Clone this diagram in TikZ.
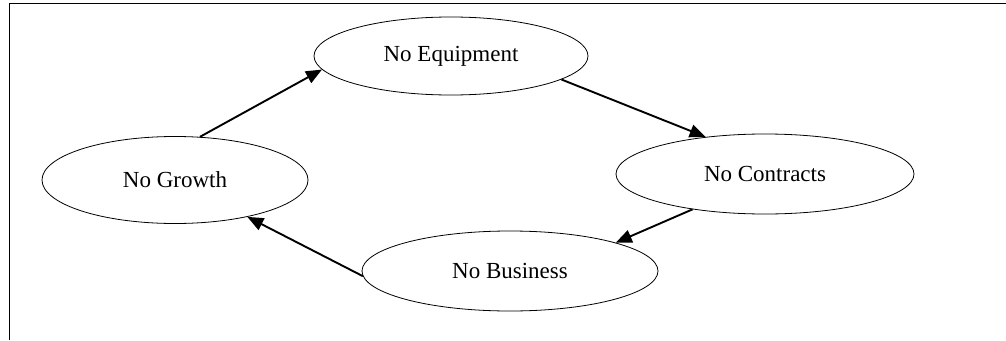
\documentclass[tikz,border=0pt]{standalone}
\usepackage{fontspec}
\setmainfont{Liberation Serif}
\usetikzlibrary{shapes.geometric,arrows.meta}
\begin{document}
\begin{tikzpicture}[x=1pt, y=-1pt,
    state/.style={ellipse, draw, line width=0.8pt, inner sep=0pt, font=\fontsize{23}{27}\selectfont},
    link/.style={line width=1.9pt, -{Triangle[length=16pt, width=13pt]}}]
	\useasboundingbox (0,0) rectangle (1006,340);
	\draw[line width=1pt] (9,340) -- (9,3) -- (1006,3);
		\node[state, minimum width=274pt, minimum height=78pt] (equip) at (451,56) {No Equipment};
		\node[state, minimum width=266pt, minimum height=87pt] (growth) at (175,180) {No Growth};
		\node[state, minimum width=298pt, minimum height=80pt] (contracts) at (765,174) {No Contracts};
		\node[state, minimum width=296pt, minimum height=80pt] (business) at (510,271) {No Business};
		\draw[link] (growth.60) -- (equip.186);
		\draw[link] (equip.-12) -- (contracts.148);
		\draw[link] (contracts.206) -- (business.15);
		\draw[link] (business.182) -- (growth.-27);

    \end{tikzpicture}
\end{document}
